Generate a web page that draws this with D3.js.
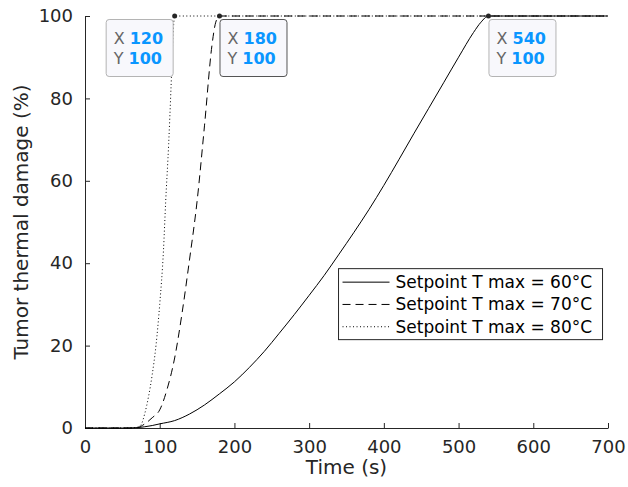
<!DOCTYPE html>
<meta charset="utf-8">
<script src="https://d3js.org/d3.v7.min.js"></script>
<style>
  body { margin: 0; background: #fff; font-family: 'DejaVu Sans', sans-serif; }
  svg { display: block; }
  .tick text { font-size: 18px; fill: #262626; font-family: 'DejaVu Sans', sans-serif; }
  .domain, .tick line { stroke: #262626; }
  .label { font-size: 20px; fill: #262626; }
  .legend text { font-size: 17px; fill: #000; }
</style>
<div id="chart"></div>
<script>
// Time (s)
var time60 = [0, 50, 70, 80, 90, 100, 120, 140, 160, 180, 200, 220, 240, 260, 280, 300, 320, 340, 360, 380, 400, 420, 440, 460, 480, 500, 520, 530, 540, 700];
var damage60 = [0, 0, 0.1, 0.3, 0.6, 1.0, 1.8, 3.4, 5.6, 8.3, 11.2, 14.7, 18.6, 23, 27.5, 32.2, 37, 42.2, 47.5, 53, 58.9, 65.1, 71.4, 77.6, 83.8, 90, 96, 98.5, 100, 100];

var time70 = [0, 60, 70, 80, 90, 100, 110, 120, 130, 140, 150, 160, 170, 175, 180, 700];
var damage70 = [0, 0, 0.1, 1, 2.5, 4.4, 9.5, 17, 28, 41, 55, 73.5, 93, 98.5, 100, 100];

var time80 = [0, 60, 70, 75, 80, 85, 90, 95, 100, 105, 108, 112, 115, 118, 120, 700];
var damage80 = [0, 0, 0.2, 0.8, 3.5, 7.6, 13, 20, 30, 43, 55, 69, 82, 96, 100, 100];

var seriesNames = ["Setpoint T max = 60\u00B0C", "Setpoint T max = 70\u00B0C", "Setpoint T max = 80\u00B0C"];
var xTicks = [0, 100, 200, 300, 400, 500, 600, 700];
var yTicks = [0, 20, 40, 60, 80, 100];

// data tips
var tipX = [120, 180, 540];
var tipY = [100, 100, 100];

var series = [
  { name: seriesNames[0], t: time60, d: damage60, dash: null },
  { name: seriesNames[1], t: time70, d: damage70, dash: "8,5" },
  { name: seriesNames[2], t: time80, d: damage80, dash: "1,2.5" }
];

var W = 628, H = 487;
var margin = { top: 16, right: 20, bottom: 59, left: 85 },
    width = W - margin.left - margin.right,
    height = H - margin.top - margin.bottom;

var svg = d3.select("#chart").append("svg")
    .attr("width", W).attr("height", H)
  .append("g")
    .attr("transform", "translate(" + margin.left + "," + margin.top + ")");

var x = d3.scaleLinear().domain([0, 700]).range([0, width]);
var y = d3.scaleLinear().domain([0, 100]).range([height, 0]);

// axes, ticks pointing inward
svg.append("g")
    .attr("transform", "translate(0," + height + ")")
    .call(d3.axisBottom(x).tickValues(xTicks).tickSizeInner(-5).tickSizeOuter(0).tickPadding(12))
    .selectAll(".tick text").attr("dy", "0.71em");

svg.append("g")
    .call(d3.axisLeft(y).tickValues(yTicks).tickSizeInner(-5).tickSizeOuter(0).tickPadding(12));

svg.selectAll(".domain").attr("stroke-width", 1);

// lines
var line = d3.line()
    .curve(d3.curveMonotoneX)
    .x(function(d) { return x(d[0]); })
    .y(function(d) { return y(d[1]); });

series.forEach(function(s) {
  svg.append("path")
    .datum(s.t.map(function(t, i) { return [t, s.d[i]]; }))
    .attr("fill", "none")
    .attr("stroke", "#000")
    .attr("stroke-width", 1)
    .attr("stroke-dasharray", s.dash)
    .attr("d", line);
});

// axis labels
svg.append("text").attr("class", "label")
    .attr("x", width / 2).attr("y", height + 46)
    .attr("text-anchor", "middle")
    .text("Time (s)");

svg.append("text").attr("class", "label")
    .attr("transform", "translate(-57," + (height / 2) + ") rotate(-90)")
    .attr("text-anchor", "middle")
    .text("Tumor thermal damage (%)");

// legend
var lg = svg.append("g").attr("class", "legend")
    .attr("transform", "translate(" + (x(340) - 0.5) + "," + (y(38.8) + 0.5) + ")");
lg.append("rect")
    .attr("width", 264).attr("height", 71)
    .attr("fill", "#fff").attr("stroke", "#262626").attr("stroke-width", 1);
series.forEach(function(s, i) {
  var yy = 13.5 + i * 22.3;
  lg.append("line")
    .attr("x1", 4).attr("x2", 51).attr("y1", yy).attr("y2", yy)
    .attr("stroke", "#000").attr("stroke-width", 1)
    .attr("stroke-dasharray", s.dash);
  lg.append("text")
    .attr("x", 57).attr("y", yy + 6)
    .text(s.name);
});

// data tips
var tipW = 67, tipH = 57;
tipX.forEach(function(tx, i) {
  var px = x(tx), py = y(tipY[i]);
  var left = i === 0 ? px - 2 - tipW : px;
  var g = svg.append("g").attr("transform", "translate(" + left + "," + (py + 3) + ")");
  g.append("rect")
    .attr("x", 0.5).attr("y", 0.5)
    .attr("width", tipW).attr("height", tipH)
    .attr("rx", 3)
    .attr("fill", "#f8f8fc")
    .attr("stroke", i === 1 ? "#555" : "#b4b4b4")
    .attr("stroke-width", 1);
  [["X", tx], ["Y", tipY[i]]].forEach(function(r, j) {
    var t = g.append("text")
      .attr("x", 8).attr("y", 25 + j * 20)
      .style("font-size", "16px");
    t.append("tspan").attr("fill", "#666").text(r[0] + " ");
    t.append("tspan").attr("fill", "#0a96ff").attr("font-weight", "bold").text(r[1]);
  });
  svg.append("circle")
    .attr("cx", px).attr("cy", py).attr("r", 2.5)
    .attr("fill", "#262626");
});
</script>
